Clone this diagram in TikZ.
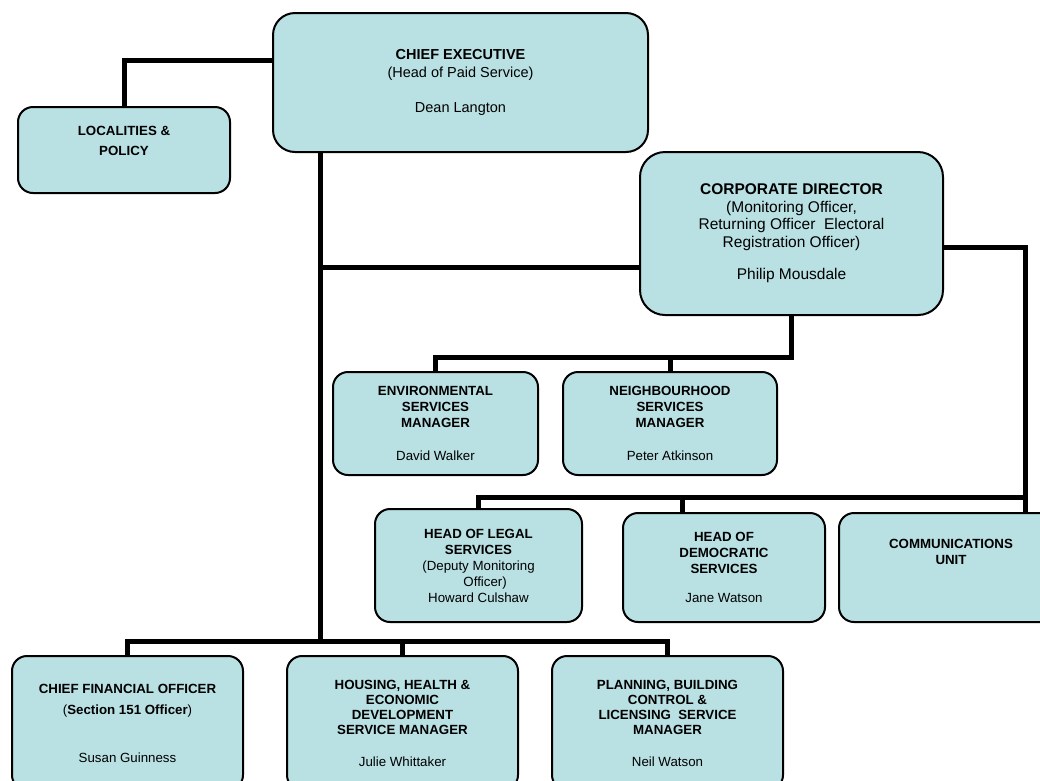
\documentclass[tikz,border=0pt]{standalone}
\usepackage{fontspec}
\setmainfont{Liberation Sans}

\definecolor{boxfill}{RGB}{185,224,227}
\tikzset{
  office/.style={draw=black, line width=2pt, fill=boxfill, rounded corners=15pt, align=center, inner sep=0pt, font=\fontsize{13.3}{16}\selectfont},
  boxsize/.style 2 args={minimum width=#1pt, minimum height=#2pt},
  link/.style={line width=5pt},
}

\begin{document}
\begin{tikzpicture}[x=1pt, y=-1pt]
  \useasboundingbox (0,0) rectangle (1040,780);
  \clip (0,0) rectangle (1040,780);

  \node[office, boxsize={375}{139}, rounded corners=22pt, font=\fontsize{14.5}{18}\selectfont] (ce) at (460.5,82.5) {\textbf{CHIEF EXECUTIVE}\\(Head of Paid Service)\\[17pt]Dean Langton};
  \node[office, boxsize={212}{86}] (lp) at (124,150) {\textbf{LOCALITIES \&}\\[4pt]\textbf{POLICY}\\[2pt]~};
  \node[office, boxsize={303}{163}, rounded corners=25pt, font=\fontsize{15.5}{17.5}\selectfont] (cd) at (791.5,233.5) {\textbf{CORPORATE DIRECTOR}\\(Monitoring Officer,\\Returning Officer\ \ Electoral\\Registration Officer)\\[15pt]Philip Mousdale};

  \node[office, boxsize={205}{103}] (es) at (435.5,423.5) {\textbf{ENVIRONMENTAL}\\\textbf{SERVICES}\\\textbf{MANAGER}\\[17pt]David Walker};
  \node[office, boxsize={214}{103}] (ns) at (670,423.5) {\textbf{NEIGHBOURHOOD}\\\textbf{SERVICES}\\\textbf{MANAGER}\\[17pt]Peter Atkinson};

  \node[office, boxsize={207}{113}] (ls) at (478.5,565.5) {\textbf{HEAD OF LEGAL}\\\textbf{SERVICES}\\(Deputy Monitoring\\\hspace*{1em}Officer)\\Howard Culshaw};
  \node[office, boxsize={202}{109}] (ds) at (724,567.5) {\textbf{HEAD OF}\\\textbf{DEMOCRATIC}\\\textbf{SERVICES}\\[13pt]Jane Watson};
  \node[office, boxsize={224}{109}] (cu) at (951,567.5) {\textbf{COMMUNICATIONS}\\\textbf{UNIT}\\[16pt]~};

  \node[office, boxsize={231}{134}] (cf) at (127.5,723) {\textbf{CHIEF FINANCIAL OFFICER}\\[5pt](\textbf{Section 151 Officer})\\[32pt]Susan Guinness};
  \node[office, boxsize={231}{134}, font=\fontsize{13.3}{15}\selectfont] (hh) at (402.5,723) {\textbf{HOUSING, HEALTH \&}\\\textbf{ECONOMIC}\\\textbf{DEVELOPMENT}\\\textbf{SERVICE MANAGER}\\[17pt]Julie Whittaker};
  \node[office, boxsize={231}{134}, font=\fontsize{13.3}{15}\selectfont] (pb) at (667.5,723) {\textbf{PLANNING, BUILDING}\\\textbf{CONTROL \&}\\\textbf{LICENSING\ \ SERVICE}\\\textbf{MANAGER}\\[17pt]Neil Watson};

  \coordinate (trunk) at (320,641);
  \coordinate (cdtap) at (320,267);
  \coordinate (envbus) at (791.5,357);
  \coordinate (legbus) at (1025,497);
  \coordinate (demtap) at (682,497);

  \draw[link] (lp.north) |- ([yshift=22.5pt]ce.west);
  \draw[link] (ce.south -| trunk) -- (trunk);
  \draw[link] (cdtap) -- (cdtap -| cd.west);
  \draw[link] (cd.south) -- (envbus) -| (es.north);
  \draw[link] (ns.north) -- (ns.north |- envbus);
  \draw[link] ([yshift=-13.5pt]cd.east) -| (cu.north -| legbus);
  \draw[link] (legbus) -| (ls.north);
  \draw[link] (demtap) -- (demtap |- ds.north);
  \draw[link] (cf.north) |- (trunk) -| (pb.north);
  \draw[link] (hh.north) -- (hh.north |- trunk);
\end{tikzpicture}
\end{document}
